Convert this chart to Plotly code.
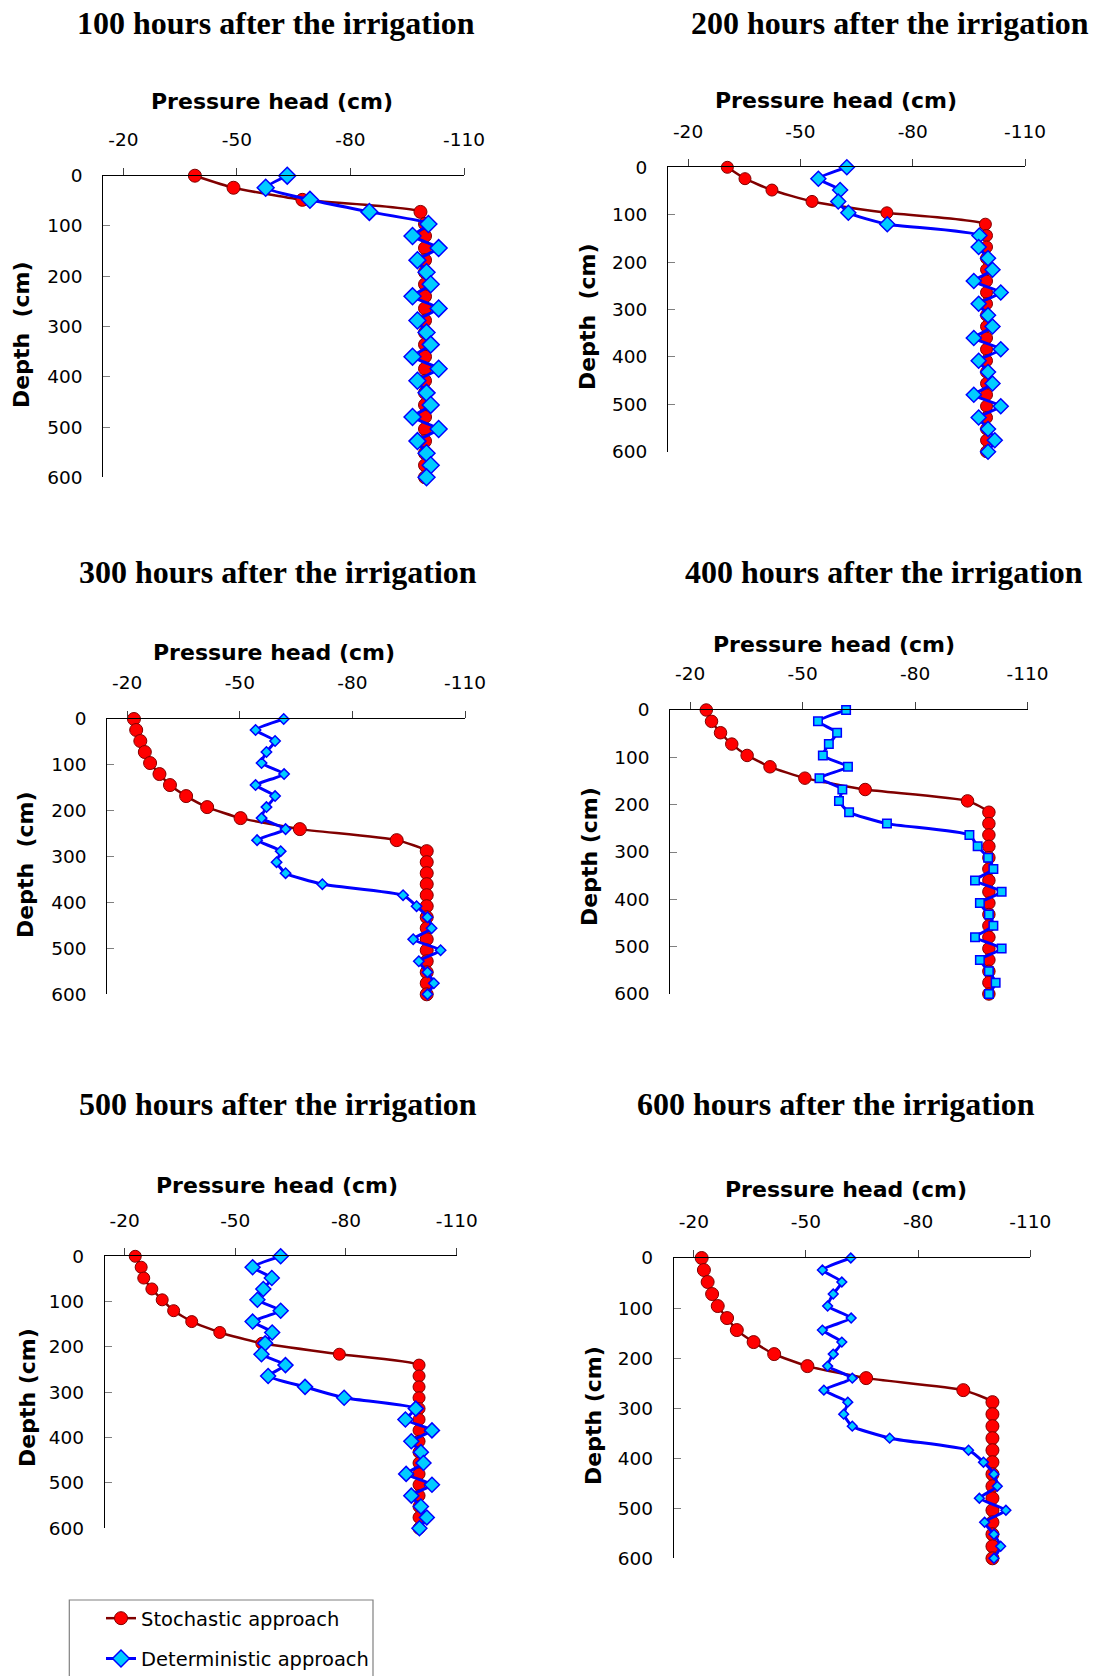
import plotly.graph_objects as go

W, H = 1097, 1676

# Depth of the simulation nodes (cm)
depth_cm = [0, 24, 48, 72, 96, 120, 144, 168, 192, 216, 240, 264, 288,
            312, 336, 360, 384, 408, 432, 456, 480, 504, 528, 552, 576, 600]

x_ticks = [-20, -50, -80, -110]
y_ticks = [0, 100, 200, 300, 400, 500, 600]

# Pressure head profiles (cm), stochastic approach
stoch_100 = [-38.9, -49.1, -67.3, -98.5, -99.7, -99.7, -99.7, -99.7, -99.7, -99.7,
             -99.7, -99.7, -99.7, -99.7, -99.7, -99.7, -99.7, -99.7, -99.7, -99.7,
             -99.7, -99.7, -99.7, -99.7, -99.7, -99.7]
stoch_200 = [-30.5, -35.2, -42.4, -53.1, -73.1, -99.4, -99.7, -99.7, -99.7, -99.7,
             -99.7, -99.7, -99.7, -99.7, -99.7, -99.7, -99.7, -99.7, -99.7, -99.7,
             -99.7, -99.7, -99.7, -99.7, -99.7, -99.7]
stoch_300 = [-21.8, -22.4, -23.5, -24.7, -26.1, -28.6, -31.4, -35.7, -41.3, -50.2,
             -66.0, -91.8, -99.8, -99.8, -99.8, -99.8, -99.8, -99.8, -99.8, -99.8,
             -99.8, -99.8, -99.8, -99.8, -99.8, -99.8]
stoch_400 = [-24.3, -25.7, -28.1, -31.1, -35.2, -41.3, -50.6, -66.7, -94.0, -99.7,
             -99.7, -99.7, -99.7, -99.7, -99.7, -99.7, -99.7, -99.7, -99.7, -99.7,
             -99.7, -99.7, -99.7, -99.7, -99.7, -99.7]
stoch_500 = [-22.9, -24.5, -25.2, -27.4, -30.2, -33.3, -38.2, -45.8, -57.2, -78.2,
             -99.8, -99.8, -99.8, -99.8, -99.8, -99.8, -99.8, -99.8, -99.8, -99.8,
             -99.8, -99.8, -99.8, -99.8, -99.8, -99.8]
stoch_600 = [-22.1, -22.7, -23.7, -24.9, -26.4, -28.9, -31.5, -36.0, -41.5, -50.4,
             -66.1, -92.1, -99.9, -99.9, -99.9, -99.9, -99.9, -99.9, -99.9, -99.9,
             -99.9, -99.9, -99.9, -99.9, -99.9, -99.9]

# Pressure head profiles (cm), deterministic approach
det_100 = [-63.3, -57.6, -69.3, -85.0, -100.6, -96.4, -103.3, -97.7, -100.1, -101.2,
           -96.4, -103.3, -97.7, -100.1, -101.2, -96.4, -103.3, -97.7, -100.1, -101.2,
           -96.4, -103.3, -97.7, -100.1, -101.2, -100.1]
det_200 = [-62.4, -54.8, -60.6, -60.1, -62.8, -73.2, -97.8, -97.6, -100.1, -101.3,
           -96.3, -103.5, -97.6, -100.1, -101.3, -96.3, -103.5, -97.6, -100.1, -101.3,
           -96.3, -103.5, -97.6, -100.1, -101.9, -100.1]
det_300 = [-61.7, -54.2, -59.4, -57.1, -55.8, -61.8, -54.2, -59.4, -57.1, -55.8,
           -62.2, -54.6, -60.9, -59.8, -62.2, -72.0, -93.5, -97.1, -100.0, -101.1,
           -96.2, -103.5, -97.7, -100.0, -101.7, -100.0]
det_400 = [-61.6, -54.1, -59.2, -57.0, -55.4, -62.1, -54.5, -60.6, -59.7, -62.4,
           -72.5, -94.5, -96.7, -99.5, -100.9, -96.0, -103.1, -97.3, -99.7, -100.9,
           -96.0, -103.1, -97.3, -99.7, -101.5, -99.7]
det_500 = [-62.3, -54.7, -59.9, -57.6, -56.0, -62.3, -54.7, -60.0, -58.1, -57.1,
           -63.6, -58.9, -68.9, -79.5, -98.9, -96.1, -103.3, -97.7, -100.3, -101.0,
           -96.3, -103.3, -97.7, -100.3, -101.9, -99.9]
det_600 = [-62.0, -54.4, -59.6, -57.3, -55.8, -62.1, -54.4, -59.6, -57.3, -55.8,
           -62.4, -54.8, -61.2, -60.1, -62.4, -72.4, -93.5, -97.5, -100.3, -101.2,
           -96.4, -103.5, -97.8, -100.3, -102.1, -100.3]

titles = ["100 hours after the irrigation", "200 hours after the irrigation",
          "300 hours after the irrigation", "400 hours after the irrigation",
          "500 hours after the irrigation", "600 hours after the irrigation"]
depth_titles = ["Depth\u00a0\u00a0(cm)", "Depth\u00a0\u00a0(cm)", "Depth\u00a0\u00a0(cm)",
                "Depth (cm)", "Depth (cm)", "Depth (cm)"]

stoch_all = [stoch_100, stoch_200, stoch_300, stoch_400, stoch_500, stoch_600]
det_all = [det_100, det_200, det_300, det_400, det_500, det_600]

# Panel geometry in pixels: plot left, x of the -110 tick, top, bottom
panels = [
    dict(l=103.3, r=464.0, t=175.7, b=477.3, title=(276, 23), xt=(272, 102), yt=(22, 335),
         sym="diamond", dsize=13, csize=13),
    dict(l=668.2, r=1025.1, t=167.3, b=451.7, title=(890, 23), xt=(836, 100), yt=(587, 317),
         sym="diamond", dsize=11.5, csize=12),
    dict(l=107.3, r=465.0, t=719.0, b=994.3, title=(278, 572), xt=(274, 652), yt=(25, 865),
         sym="diamond", dsize=8, csize=13),
    dict(l=670.3, r=1027.5, t=710.0, b=994.0, title=(884, 572), xt=(834, 644), yt=(589, 857),
         sym="square", dsize=8.5, csize=12.5),
    dict(l=105.0, r=456.7, t=1256.3, b=1528.3, title=(278, 1104), xt=(277, 1185), yt=(27, 1398),
         sym="diamond", dsize=11.5, csize=12),
    dict(l=674.0, r=1030.2, t=1258.0, b=1558.3, title=(836, 1104), xt=(846, 1189), yt=(593, 1416),
         sym="diamond", dsize=7.5, csize=13),
]

X_START = -14.7
RED_LINE = "#800000"
RED_FILL = "#FF0000"
BLUE_LINE = "#0000FF"
CYAN_FILL = "#00CCFF"

TICK_FONT = dict(family="DejaVu Sans", size=18.5, color="black")


def px(x):
    return x / W


def py(y):
    return 1 - y / H


fig = go.Figure()
annotations = []
layout_axes = {}

for i, p in enumerate(panels):
    n = i + 1
    xa = "x" if n == 1 else f"x{n}"
    ya = "y" if n == 1 else f"y{n}"
    first = (n == 1)

    fig.add_trace(go.Scatter(
        x=stoch_all[i], y=depth_cm, xaxis=xa, yaxis=ya,
        mode="lines+markers", name="Stochastic approach",
        legendgroup="stoch", showlegend=first,
        line=dict(color=RED_LINE, width=2.5, shape="spline", smoothing=0.5),
        marker=dict(symbol="circle", size=p["csize"], color=RED_FILL,
                    line=dict(color=RED_LINE, width=1)),
        cliponaxis=False,
    ))
    fig.add_trace(go.Scatter(
        x=det_all[i], y=depth_cm, xaxis=xa, yaxis=ya,
        mode="lines+markers", name="Deterministic approach",
        legendgroup="det", showlegend=first,
        line=dict(color=BLUE_LINE, width=3, shape="spline", smoothing=0.5),
        marker=dict(symbol=p["sym"], size=p["dsize"], color=CYAN_FILL,
                    line=dict(color=BLUE_LINE, width=1.5)),
        cliponaxis=False,
    ))

    xkey = "xaxis" if n == 1 else f"xaxis{n}"
    ykey = "yaxis" if n == 1 else f"yaxis{n}"
    layout_axes[xkey] = dict(
        domain=[px(p["l"]), px(p["r"])], anchor=ya, side="top",
        range=[X_START, -110], tickvals=x_ticks, ticktext=[str(v) for v in x_ticks],
        ticks="outside", ticklen=7, tickwidth=1.2, tickcolor="#404040",
        showline=True, linecolor="black", linewidth=1.3,
        showgrid=False, zeroline=False, tickfont=TICK_FONT,
        ticklabelstandoff=14, automargin=False,
    )
    layout_axes[ykey] = dict(
        domain=[py(p["b"]), py(p["t"])], anchor=xa,
        range=[600, 0], tickvals=y_ticks, ticktext=[str(v) for v in y_ticks],
        ticks="inside", ticklen=7, tickwidth=1.2, tickcolor="#808080",
        showline=True, linecolor="black", linewidth=1.3,
        showgrid=False, zeroline=False, tickfont=TICK_FONT,
        ticklabelstandoff=16, automargin=False,
    )

    annotations.append(dict(
        text=f"<b>{titles[i]}</b>", x=px(p["title"][0]), y=py(p["title"][1]),
        xref="paper", yref="paper", xanchor="center", yanchor="middle", showarrow=False,
        font=dict(family="Liberation Serif", size=32, color="black"),
    ))
    annotations.append(dict(
        text="<b>Pressure head (cm)</b>", x=px(p["xt"][0]), y=py(p["xt"][1]),
        xref="paper", yref="paper", xanchor="center", yanchor="middle", showarrow=False,
        font=dict(family="DejaVu Sans", size=22, color="black"),
    ))
    annotations.append(dict(
        text=f"<b>{depth_titles[i]}</b>", x=px(p["yt"][0]), y=py(p["yt"][1]),
        xref="paper", yref="paper", xanchor="center", yanchor="middle", showarrow=False,
        textangle=-90,
        font=dict(family="DejaVu Sans", size=22, color="black"),
    ))

fig.update_layout(
    width=W, height=H,
    margin=dict(l=0, r=0, t=0, b=0, autoexpand=False),
    paper_bgcolor="white", plot_bgcolor="white",
    annotations=annotations,
    showlegend=True,
    legend=dict(
        x=px(101), y=py(1599), xanchor="left", yanchor="top",
        bgcolor="rgba(0,0,0,0)", borderwidth=0,
        font=dict(family="DejaVu Sans", size=19.5, color="black"),
        traceorder="grouped", tracegroupgap=12,
    ),
    shapes=[dict(type="rect", xref="paper", yref="paper",
                 x0=px(69.3), x1=px(373), y0=py(1690), y1=py(1600),
                 line=dict(color="#808080", width=1.2), fillcolor="rgba(0,0,0,0)")],
    **layout_axes,
)

fig.write_html("out.html")
